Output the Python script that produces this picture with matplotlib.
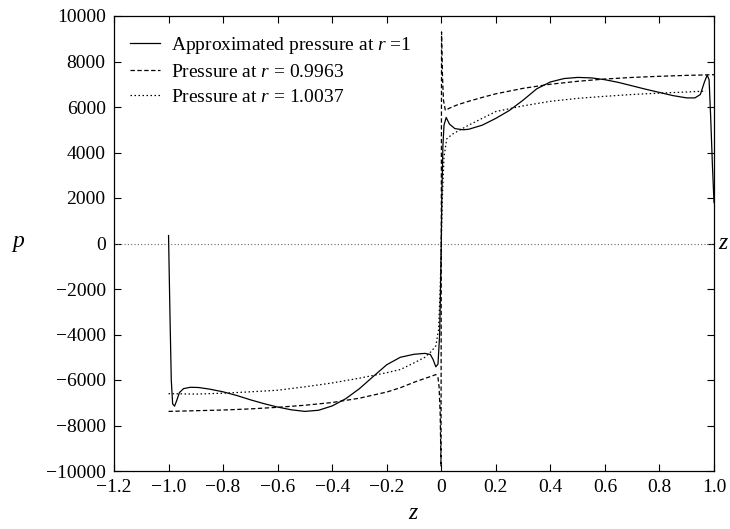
import numpy as np
import matplotlib.pyplot as plt

plt.rcParams['font.family'] = ['Liberation Serif', 'DejaVu Serif']
plt.rcParams['mathtext.fontset'] = 'custom'
plt.rcParams['mathtext.rm'] = 'Liberation Serif'
plt.rcParams['mathtext.it'] = 'Liberation Serif:italic'
plt.rcParams['font.size'] = 14

# Approximated pressure at r = 1 (solid)
z_approx = [-1.000, -0.995, -0.990, -0.985, -0.978, -0.970, -0.960, -0.945, -0.920, -0.890,
            -0.850, -0.800, -0.750, -0.700, -0.650, -0.600, -0.550, -0.500, -0.450, -0.400,
            -0.350, -0.300, -0.250, -0.200, -0.150, -0.100, -0.060, -0.040, -0.030, -0.020,
            -0.012, -0.006, -0.002, 0.000, 0.002, 0.006, 0.010, 0.018, 0.030, 0.050,
            0.080, 0.100, 0.150, 0.200, 0.250, 0.300, 0.350, 0.400, 0.450, 0.500,
            0.550, 0.600, 0.650, 0.700, 0.750, 0.800, 0.850, 0.900, 0.930, 0.950,
            0.965, 0.975, 0.982, 0.988, 0.994, 1.000]
p_approx = [350, -3000, -6000, -7050, -7150, -6900, -6550, -6380, -6320, -6330,
            -6400, -6520, -6680, -6870, -7040, -7190, -7310, -7380, -7330, -7140,
            -6820, -6380, -5850, -5330, -5000, -4870, -4830, -4880, -5100, -5420,
            -5300, -4000, -1500, 0, 2000, 4300, 5200, 5540, 5250, 5050,
            5000, 5020, 5200, 5500, 5850, 6300, 6800, 7100, 7250, 7300,
            7280, 7200, 7080, 6930, 6780, 6640, 6500, 6400, 6400, 6550,
            7100, 7400, 7200, 5500, 3500, 1800]

# Pressure at r = 0.9963 (dashed)
z_inner = [-1.000, -0.900, -0.800, -0.700, -0.600, -0.500, -0.400, -0.300, -0.200, -0.150,
           -0.100, -0.060, -0.035, -0.020, -0.012, -0.008, -0.004, -0.001, 0.001, 0.004,
           0.008, 0.015, 0.030, 0.060, 0.100, 0.150, 0.200, 0.300, 0.400, 0.500,
           0.600, 0.700, 0.800, 0.900, 1.000]
p_inner = [-7380, -7350, -7320, -7270, -7200, -7110, -6990, -6800, -6530, -6340,
           -6100, -5930, -5830, -5760, -5900, -6300, -7500, -9800, 9300, 7500,
           6300, 5850, 5950, 6100, 6250, 6420, 6580, 6820, 7000, 7130,
           7230, 7300, 7350, 7390, 7420]

# Pressure at r = 1.0037 (dotted)
z_outer = [-1.000, -0.900, -0.800, -0.700, -0.600, -0.500, -0.400, -0.300, -0.200, -0.150,
           -0.100, -0.060, -0.037, -0.020, -0.010, -0.004, 0.000, 0.004, 0.010, 0.020,
           0.040, 0.100, 0.200, 0.300, 0.400, 0.500, 0.600, 0.700, 0.800, 0.900, 0.970]
p_outer = [-6600, -6620, -6580, -6520, -6450, -6300, -6130, -5920, -5680, -5540,
           -5250, -5000, -4750, -4500, -3800, -2000, 0, 2000, 3800, 4600,
           4800, 5200, 5800, 6050, 6250, 6380, 6470, 6550, 6610, 6660, 6700]

xticks = [-1.2, -1.0, -0.8, -0.6, -0.4, -0.2, 0, 0.2, 0.4, 0.6, 0.8, 1.0]
xticklabels = ['\u22121.2', '\u22121.0', '\u22120.8', '\u22120.6', '\u22120.4', '\u22120.2',
               '0', '0.2', '0.4', '0.6', '0.8', '1.0']
yticks = np.arange(-10000, 10001, 2000)

fig = plt.figure(figsize=(7.3, 5.29), dpi=100)
ax = fig.add_axes([114 / 730, 58 / 529, 600 / 730, 455 / 529])

ax.axhline(0, color='0.4', lw=0.8, ls=(0, (1, 2)))
ax.plot(z_approx, p_approx, color='black', lw=0.9, label='Approximated pressure at $r$ =1')
ax.plot(z_inner, p_inner, color='black', lw=0.9, ls=(0, (3.5, 2)), label='Pressure at $r$ = 0.9963')
ax.plot(z_outer, p_outer, color='black', lw=0.9, ls=(0, (1.2, 2)), label='Pressure at $r$ = 1.0037')

ax.set_xlim(-1.2, 1.0)
ax.set_ylim(-10000, 10000)
ax.set_xticks(xticks)
ax.set_xticklabels(xticklabels)
ax.set_yticks(yticks)
ax.set_yticklabels([str(v).replace('-', '\u2212') for v in yticks])
ax.tick_params(direction='in', top=True, right=True, length=5, width=0.8, pad=6)
for s in ax.spines.values():
    s.set_linewidth(0.9)

ax.set_xlabel('$z$', fontsize=17, labelpad=5)
ax.text(-0.16, 0.5, '$p$', transform=ax.transAxes, fontsize=17, ha='center', va='center')
ax.text(1.006, 0.5, '$z$', transform=ax.transAxes, fontsize=17, ha='left', va='center')

ax.legend(loc='upper left', frameon=False, handlelength=1.55, handletextpad=0.6,
          labelspacing=0.38, borderaxespad=0.0, bbox_to_anchor=(0.013, 0.976))

fig.savefig('out.png', dpi=100)
